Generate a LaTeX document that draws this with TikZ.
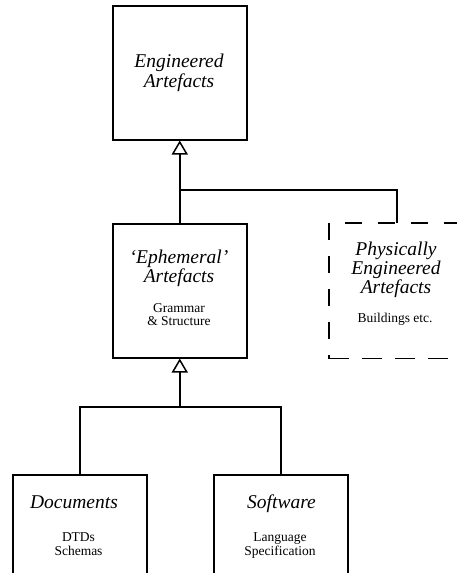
\documentclass[tikz,border=0pt]{standalone}
\usepackage{fontspec}
\setmainfont{Liberation Serif}
\usetikzlibrary{arrows.meta}

\begin{document}
\begin{tikzpicture}[x=1pt,y=-1pt,
  box/.style={draw,line width=1.5pt,minimum width=134pt,minimum height=134pt,inner sep=0pt,anchor=north west},
  ghost/.style={box,draw=none},
  dline/.style={line width=1.5pt,dash pattern=on 17pt off 16pt},
  title/.style={anchor=base,inner sep=0pt,font=\fontsize{19.5}{20}\selectfont\itshape},
  note/.style={anchor=base,inner sep=0pt,font=\fontsize{13.5}{14}\selectfont},
  link/.style={line width=1.5pt},
  isa/.style={link,-{Triangle[open,length=14pt,width=16pt,line width=1.5pt]}}]
  \useasboundingbox (0,0) rectangle (457,573);
  \clip (0,0) rectangle (457,573);

  % boxes
  \node[box]   (eng)  at (112,5)   {};
  \node[box]   (eph)  at (112,223) {};
  \node[ghost] (phys) at (329,223) {};
  \node[box]   (doc)  at (12,474)  {};
  \node[box]   (soft) at (213,474) {};

  % dashed outline of the physical artefacts box
  \draw[dline] (phys.north west) -- (phys.south west);
  \draw[dline,dash phase=17pt] (phys.north west) -- (phys.north east);
  \draw[dline,dash pattern=on 20pt off 13pt] (phys.south west) -- (phys.south east);
  \draw[dline] (phys.north east) -- (phys.south east);

  % texts
  \node[title] (engA) at (179,67) {Engineered};
  \node[title] (engB) at (179,87) {Artefacts};

  \node[title] (ephA) at (179,263) {‘Ephemeral’};
  \node[title] (ephB) at (179,282) {Artefacts};
  \node[note]  (ephC) at (179,312) {Grammar};
  \node[note]  (ephD) at (179,325.5) {\& Structure};

  \node[title] (phyA) at (396,255) {Physically};
  \node[title] (phyB) at (396,274.5) {Engineered};
  \node[title] (phyC) at (396,293.5) {Artefacts};
  \node[note]  (phyD) at (395,322) {Buildings etc.};

  \node[title] (docA) at (74,508) {Documents};
  \node[note]  (docB) at (78.5,541) {DTDs};
  \node[note]  (docC) at (78.5,555) {Schemas};

  \node[title] (sofA) at (281.5,508) {Software};
  \node[note]  (sofB) at (280,541) {Language};
  \node[note]  (sofC) at (280,555) {Specification};

  % junction points
  \coordinate (j1) at (eph.north |- 0,190);
  \coordinate (j2) at (eph.south |- 0,407);

  % connectors
  \draw[isa] (eph.north) -- (eng.south);
  \draw[link] (j1) -| (phys.north);
  \draw[isa] (j2) -- (eph.south);
  \draw[link] (doc.north) |- (j2) -| (soft.north);
\end{tikzpicture}
\end{document}
